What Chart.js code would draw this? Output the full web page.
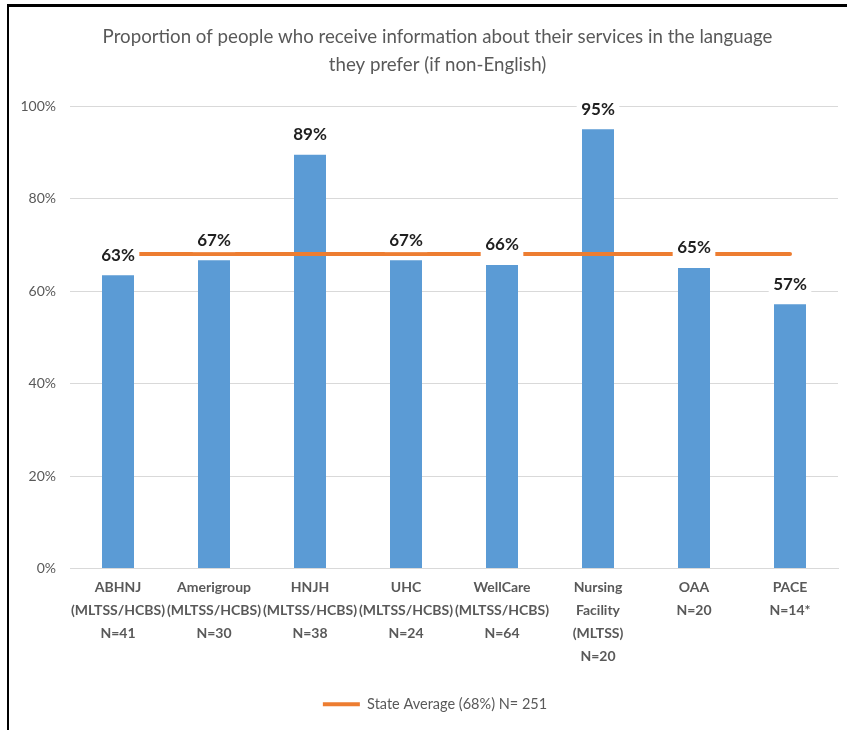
<!DOCTYPE html>
<html>
<head>
<meta charset="utf-8">
<script src="https://cdn.jsdelivr.net/npm/chart.js@4.4.1/dist/chart.umd.min.js"></script>
<style>
  html, body { margin: 0; padding: 0; background: #fff; }
  canvas { display: block; }
</style>
</head>
<body>
<canvas id="c" width="847" height="730"></canvas>
<script>
// ---- Data ----
const categories = [
  ["ABHNJ", "(MLTSS/HCBS)", "N=41"],
  ["Amerigroup", "(MLTSS/HCBS)", "N=30"],
  ["HNJH", "(MLTSS/HCBS)", "N=38"],
  ["UHC", "(MLTSS/HCBS)", "N=24"],
  ["WellCare", "(MLTSS/HCBS)", "N=64"],
  ["Nursing", "Facility", "(MLTSS)", "N=20"],
  ["OAA", "N=20"],
  ["PACE", "N=14*"]
];
const percentValues = [63.41, 66.67, 89.47, 66.67, 65.63, 95, 65, 57.14];
const stateAverageLine = [68, 68, 68, 68, 68, 68, 68, 68];
const stateAverageLabel = "State Average (68%) N= 251";
const titleLines = [
  "Proportion of people who receive information about their services in the language",
  "they prefer (if non-English)"
];
const yTickValues = [0, 20, 40, 60, 80, 100];

const FONT = "Lato, 'Open Sans', sans-serif";
const GRAY = "#595959";

const framePlugin = {
  id: 'frame',
  beforeDraw(chart) {
    const ctx = chart.ctx;
    ctx.save();
    ctx.fillStyle = '#ffffff';
    ctx.fillRect(0, 0, chart.width, chart.height);
    ctx.restore();
  },
  afterLayout(chart) {
    // centre the title and legend over the same span as the reference
    const t = chart.titleBlock;
    if (t) { t.left = 28; t.right = chart.width; t.width = t.right - t.left; }
    const l = chart.legend;
    if (l) { l.left = 32; l.width = l.right - l.left; }
  },
  afterDraw(chart) {
    const ctx = chart.ctx;
    ctx.save();
    ctx.fillStyle = '#000000';
    ctx.fillRect(7, 4, chart.width - 7, 3);
    ctx.fillRect(7, 4, 2, chart.height - 4);
    ctx.restore();
  }
};

const valueLabelPlugin = {
  id: 'valueLabels',
  afterDatasetsDraw(chart) {
    const ctx = chart.ctx;
    const meta = chart.getDatasetMeta(1);
    ctx.save();
    ctx.font = "bold 17px " + FONT;
    ctx.textAlign = 'center';
    ctx.textBaseline = 'middle';
    meta.data.forEach((el, i) => {
      const txt = Math.round(percentValues[i]) + '%';
      const w = ctx.measureText(txt).width;
      const cx = el.x;
      const cy = el.y - 21;
      ctx.fillStyle = '#ffffff';
      ctx.fillRect(cx - w / 2 - 4.5, cy - 13, w + 9, 26);
      ctx.fillStyle = '#1f1f1f';
      ctx.fillText(txt, cx, cy + 1);
    });
    ctx.restore();
  }
};

new Chart(document.getElementById('c'), {
  data: {
    labels: categories,
    datasets: [
      {
        type: 'line',
        label: stateAverageLabel,
        data: stateAverageLine,
        borderColor: '#ED7D31',
        backgroundColor: '#ED7D31',
        borderWidth: 4,
        borderCapStyle: 'round',
        pointRadius: 0,
        pointHoverRadius: 0,
        pointStyle: 'line',
        order: 0
      },
      {
        type: 'bar',
        label: 'Proportion',
        data: percentValues,
        backgroundColor: '#5B9BD5',
        borderWidth: 0,
        categoryPercentage: 1,
        barPercentage: 1 / 3,
        order: 1
      }
    ]
  },
  options: {
    responsive: false,
    devicePixelRatio: 1,
    animation: false,
    layout: { padding: { left: 10, right: 9, top: 0, bottom: 8.5 } },
    plugins: {
      title: {
        display: true,
        text: titleLines,
        color: GRAY,
        font: { family: FONT, size: 18.7, weight: 'normal', lineHeight: 28 / 18.7 },
        padding: { top: 23, bottom: 27 }
      },
      legend: {
        display: true,
        position: 'bottom',
        labels: {
          filter: (item) => item.datasetIndex === 0,
          usePointStyle: true,
          pointStyleWidth: 37,
          color: GRAY,
          padding: 10,
          font: { family: FONT, size: 14.5 }
        }
      },
      tooltip: { enabled: false }
    },
    scales: {
      x: {
        offset: true,
        grid: { display: false, drawTicks: false },
        border: { display: true, color: '#D9D9D9', width: 1 },
        ticks: {
          autoSkip: false,
          maxRotation: 0,
          minRotation: 0,
          padding: 7,
          color: GRAY,
          font: { family: FONT, size: 14, weight: 'bold', lineHeight: 23 / 14 }
        },
        afterFit(scale) { scale.height = 118.5; }
      },
      y: {
        min: 0,
        max: 100,
        afterBuildTicks(scale) { scale.ticks = yTickValues.map(v => ({ value: v })); },
        grid: { color: '#D9D9D9', lineWidth: 1, drawTicks: false },
        border: { display: false },
        ticks: {
          padding: 14,
          color: GRAY,
          font: { family: FONT, size: 14 },
          callback: (v) => v + '%'
        },
        afterFit(scale) { scale.width = 60; }
      }
    }
  },
  plugins: [framePlugin, valueLabelPlugin]
});
</script>
</body>
</html>
